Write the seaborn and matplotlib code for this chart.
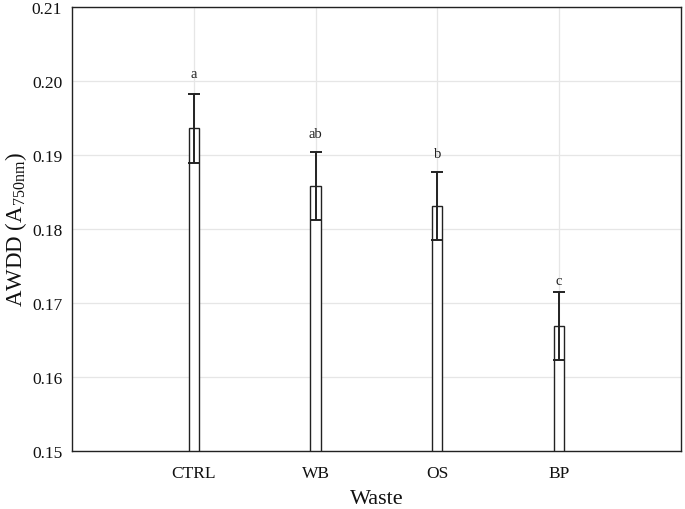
import pandas as pd
import seaborn as sns
import matplotlib.pyplot as plt

waste = ["CTRL", "WB", "OS", "BP"]
awdd = [0.1936, 0.1858, 0.1831, 0.1669]
err = [0.0047, 0.0046, 0.0046, 0.0046]
letters = ["a", "ab", "b", "c"]
letter_y = [0.2010, 0.1929, 0.1902, 0.1730]

sns.set_theme(style="whitegrid")
plt.rcParams['font.family'] = ['Liberation Serif', 'DejaVu Serif']
plt.rcParams['mathtext.fontset'] = 'custom'
plt.rcParams['mathtext.rm'] = 'Liberation Serif'

df = pd.DataFrame({"Waste": waste, "AWDD": awdd})

fig = plt.figure(figsize=(6.85, 5.10), dpi=100)
ax = fig.add_axes([0.105, 0.114, 0.889, 0.870])

sns.barplot(data=df, x="Waste", y="AWDD", color="white", edgecolor="#222222",
            linewidth=1.0, width=0.085, errorbar=None, ax=ax)
ax.errorbar(range(len(waste)), awdd, yerr=err, fmt="none", ecolor="#222222",
            elinewidth=1.4, capsize=4.3, capthick=1.4)

for i, (lab, yy) in enumerate(zip(letters, letter_y)):
    ax.text(i, yy, lab, ha="center", va="center", fontsize=10.5, color="#222222")

ax.set_xlim(-1, 4)
ax.set_ylim(0.15, 0.21)
ax.set_yticks([0.15, 0.16, 0.17, 0.18, 0.19, 0.20, 0.21])
ax.set_yticklabels(["%.2f" % v for v in ax.get_yticks()])
ax.grid(True, color="#e6e6e6", linewidth=0.9)
for s in ax.spines.values():
    s.set_visible(True)
    s.set_color("#222222")
    s.set_linewidth(1.0)
ax.tick_params(axis="y", length=0, labelsize=12.5, colors="#111111", pad=7)
ax.tick_params(axis="x", length=0, labelsize=12.5, colors="#111111", pad=10)
ax.set_xlabel("Waste", fontsize=16, color="#111111", labelpad=6)
ax.set_ylabel(r"AWDD ($\mathrm{A_{750nm}}$)", fontsize=16.5, color="#111111", labelpad=2)

plt.savefig("out.png", dpi=100)
